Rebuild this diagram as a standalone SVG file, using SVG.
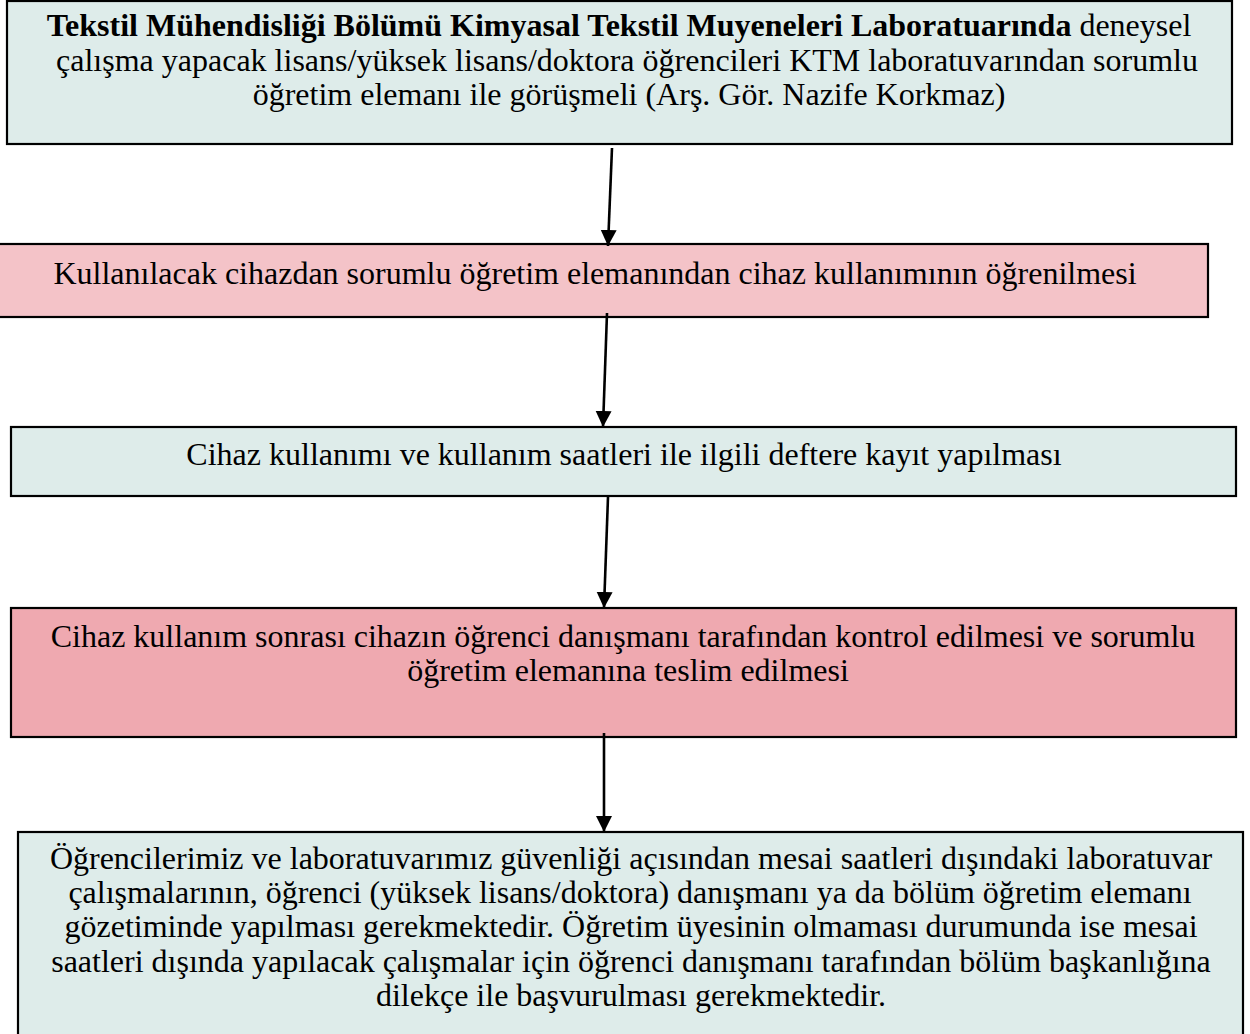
<svg xmlns="http://www.w3.org/2000/svg" width="1250" height="1034" viewBox="0 0 1250 1034">
  <style>
    .box { stroke: #000; stroke-width: 2.2; }
    .mint { fill: #deecea; }
    .pink { fill: #f4c3c8; }
    .rose { fill: #efa9b0; }
    .txt { font-family: "Liberation Serif", "Times New Roman", serif; font-size: 32px; fill: #000; text-anchor: middle; }
    .b { font-weight: bold; }
    .conn { stroke: #000; stroke-width: 2.6; fill: none; marker-end: url(#arrow); }
  </style>
  <defs>
    <marker id="arrow" markerUnits="userSpaceOnUse" markerWidth="18" markerHeight="18" viewBox="0 0 18 18" refX="16" refY="9" orient="auto">
      <path d="M0,1 L16,9 L0,17 Z" fill="#000"/>
    </marker>
  </defs>

  <!-- process steps -->
  <g id="step1">
    <rect class="box mint" x="7" y="1" width="1225" height="143"/>
    <text class="txt" x="619" y="36"><tspan class="b">Tekstil Mühendisliği Bölümü Kimyasal Tekstil Muyeneleri Laboratuarında</tspan> deneysel</text>
    <text class="txt" x="627" y="70.5">çalışma yapacak lisans/yüksek lisans/doktora öğrencileri KTM laboratuvarından sorumlu</text>
    <text class="txt" x="629" y="105">öğretim elemanı ile görüşmeli (Arş. Gör. Nazife Korkmaz)</text>
  </g>

  <g id="step2">
    <rect class="box pink" x="-3" y="244" width="1211" height="73"/>
    <text class="txt" x="595" y="284">Kullanılacak cihazdan sorumlu öğretim elemanından cihaz kullanımının öğrenilmesi</text>
  </g>

  <g id="step3">
    <rect class="box mint" x="11" y="427" width="1225" height="69"/>
    <text class="txt" x="624" y="465">Cihaz kullanımı ve kullanım saatleri ile ilgili deftere kayıt yapılması</text>
  </g>

  <g id="step4">
    <rect class="box rose" x="11" y="608" width="1225" height="129"/>
    <text class="txt" x="623" y="647">Cihaz kullanım sonrası cihazın öğrenci danışmanı tarafından kontrol edilmesi ve sorumlu</text>
    <text class="txt" x="628" y="681">öğretim elemanına teslim edilmesi</text>
  </g>

  <g id="step5">
    <rect class="box mint" x="18" y="832" width="1225" height="212"/>
    <text class="txt" x="631" y="869">Öğrencilerimiz ve laboratuvarımız güvenliği açısından mesai saatleri dışındaki laboratuvar</text>
    <text class="txt" x="630" y="903">çalışmalarının, öğrenci (yüksek lisans/doktora) danışmanı ya da bölüm öğretim elemanı</text>
    <text class="txt" x="631" y="937">gözetiminde yapılması gerekmektedir. Öğretim üyesinin olmaması durumunda ise mesai</text>
    <text class="txt" x="631" y="972">saatleri dışında yapılacak çalışmalar için öğrenci danışmanı tarafından bölüm başkanlığına</text>
    <text class="txt" x="631" y="1006">dilekçe ile başvurulması gerekmektedir.</text>
  </g>

  <!-- flow arrows -->
  <g id="connectors">
    <line class="conn" x1="612" y1="148" x2="608" y2="246"/>
    <line class="conn" x1="607" y1="313" x2="603" y2="427"/>
    <line class="conn" x1="608" y1="497" x2="604" y2="608"/>
    <line class="conn" x1="604" y1="733" x2="604" y2="832"/>
  </g>
</svg>
